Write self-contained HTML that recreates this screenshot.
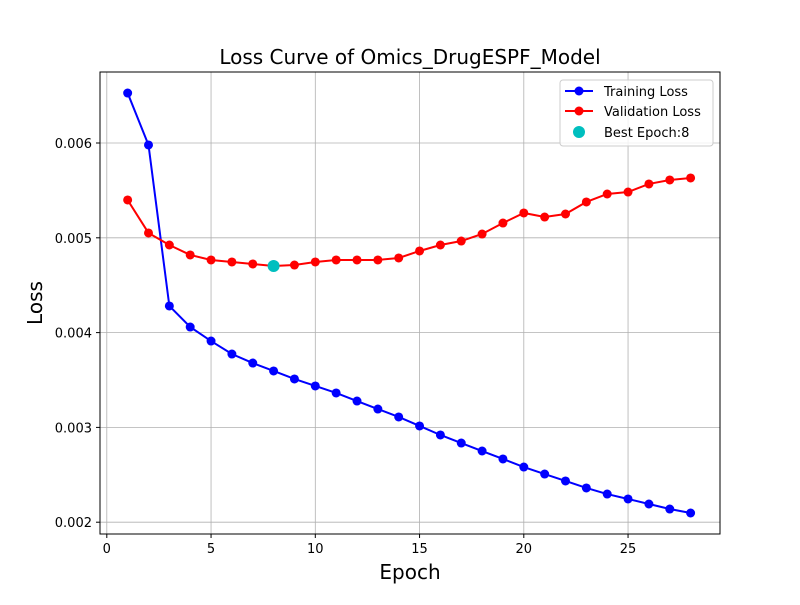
<!DOCTYPE html>
<html><head><meta charset="utf-8"><style>
body{margin:0;background:#fff}
svg text{font-family:"DejaVu Sans","Liberation Sans",sans-serif}
</style></head><body>
<svg id="chart" width="800" height="600" xmlns="http://www.w3.org/2000/svg">
<rect width="800" height="600" fill="#fff"/>
<g id="grid"></g><g id="ticks"></g><g id="series"></g>
<rect x="100" y="72" width="620" height="462" fill="none" stroke="#000" stroke-width="1"/>
<text x="410" y="64" font-size="20" text-anchor="middle">Loss Curve of Omics_DrugESPF_Model</text>
<text x="410" y="579" font-size="20" text-anchor="middle">Epoch</text>
<text x="42" y="303" font-size="20" text-anchor="middle" transform="rotate(-90 42 303)">Loss</text>
<g>
<rect x="560" y="80" width="153" height="66" rx="3" fill="#fff" fill-opacity="0.8" stroke="#ccc"/>
<line x1="565" y1="91" x2="593" y2="91" stroke="#0000ff" stroke-width="2"/><circle cx="579" cy="91" r="4.5" fill="#0000ff"/>
<text x="604" y="96" font-size="13">Training Loss</text>
<line x1="565" y1="111" x2="593" y2="111" stroke="#ff0000" stroke-width="2"/><circle cx="579" cy="111" r="4.5" fill="#ff0000"/>
<text x="604" y="116" font-size="13">Validation Loss</text>
<circle cx="579" cy="132" r="6" fill="#00bfbf"/>
<text x="604" y="137" font-size="13">Best Epoch:8</text>
</g>
</svg>
<script>
const epochs=[1,2,3,4,5,6,7,8,9,10,11,12,13,14,15,16,17,18,19,20,21,22,23,24,25,26,27,28];
const trainLoss=[.006527,.005979,.004281,.004059,.003911,.003774,.003679,.003595,.003511,.003437,.003363,.003278,.003194,.003110,.003015,.002920,.002835,.002751,.002667,.002582,.002508,.002435,.002361,.002297,.002245,.002192,.002139,.002097];
const valLoss=[.005399,.005051,.004924,.004819,.004766,.004745,.004724,.004703,.004713,.004745,.004766,.004766,.004766,.004787,.004861,.004924,.004966,.005040,.005156,.005262,.005219,.005251,.005378,.005462,.005483,.005568,.005610,.005631];
const bestEpoch=8;
const xTicks=[0,5,10,15,20,25];
const yTicks=[0.002,0.003,0.004,0.005,0.006];
const NS="http://www.w3.org/2000/svg";
const x=v=>106.8+v*20.85;
const y=v=>143-(v-0.006)*94800;
function mk(t,a,p){const e=document.createElementNS(NS,t);for(const k in a)e.setAttribute(k,a[k]);p.appendChild(e);return e;}
const grid=document.getElementById('grid'),ticks=document.getElementById('ticks'),ser=document.getElementById('series');
xTicks.forEach(t=>{
 const g=mk('line',{x1:x(t),x2:x(t),y1:72,y2:534,stroke:'#b0b0b0','stroke-width':0.8},grid);
 
 
 mk('line',{x1:x(t),x2:x(t),y1:534,y2:538,stroke:'#000'},ticks);
 const l=mk('text',{x:x(t),y:553,'font-size':13,'text-anchor':'middle'},ticks);l.textContent=t;
 
 
});
yTicks.forEach(t=>{
 const g=mk('line',{x1:100,x2:720,y1:y(t),y2:y(t),stroke:'#b0b0b0','stroke-width':0.8},grid);
 
 
 mk('line',{x1:96,x2:100,y1:y(t),y2:y(t),stroke:'#000'},ticks);
 const l=mk('text',{x:92,y:y(t)+5,'font-size':13,'text-anchor':'end'},ticks);l.textContent=t.toFixed(3);
 
 
});
function series(vals,color,name){
 const p=mk('polyline',{points:epochs.map((e,i)=>x(e)+','+y(vals[i])).join(' '),fill:'none',stroke:color,'stroke-width':2},ser);
 
 
 epochs.forEach((e,i)=>{const c=mk('circle',{cx:x(e),cy:y(vals[i]),r:4.5,fill:color},ser);
  
  });
}
series(trainLoss,'#0000ff','training-loss');
series(valLoss,'#ff0000','validation-loss');
const b=mk('circle',{cx:x(bestEpoch),cy:y(valLoss[bestEpoch-1]),r:6,fill:'#00bfbf'},ser);


</script>
</body></html>
